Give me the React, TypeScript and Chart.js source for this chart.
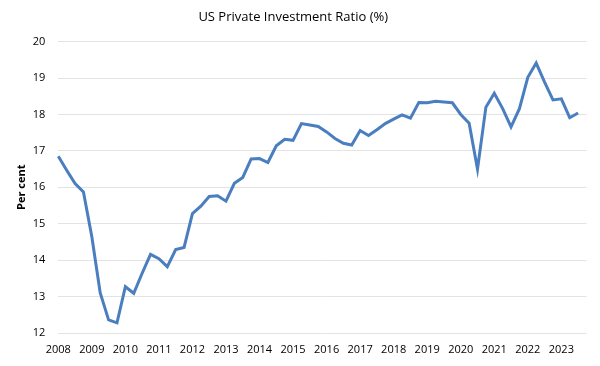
import React, { useEffect, useRef } from "react";
import { Chart, registerables } from "chart.js";

Chart.register(...registerables);

const years = ["2008","2009","2010","2011","2012","2013","2014","2015","2016","2017","2018","2019","2020","2021","2022","2023"];
const quarterNames = ["Q1", "Q2", "Q3", "Q4"];
const categories: string[] = years.flatMap((y) => quarterNames.map((q) => `${y} ${q}`));

const investmentRatio: (number | null)[] = [
  16.85, 16.47, 16.10, 15.87,
  14.64, 13.10, 12.36, 12.28,
  13.27, 13.09, 13.64, 14.16,
  14.04, 13.82, 14.29, 14.35,
  15.28, 15.48, 15.75, 15.77,
  15.62, 16.11, 16.27, 16.78,
  16.79, 16.68, 17.14, 17.32,
  17.29, 17.75, 17.71, 17.67,
  17.52, 17.34, 17.21, 17.16,
  17.56, 17.42, 17.58, 17.75,
  17.87, 17.99, 17.90, 18.33,
  18.32, 18.36, 18.34, 18.32,
  18.00, 17.76, 16.50, 18.20,
  18.58, 18.16, 17.66, 18.16,
  19.02, 19.41, 18.89, 18.40,
  18.43, 17.91, 18.04, null,
];

const FONT = "'Open Sans', 'Liberation Sans', sans-serif";

export default function App() {
  const ref = useRef<HTMLCanvasElement | null>(null);
  useEffect(() => {
    if (!ref.current) return;
    const chart = new Chart(ref.current, {
      type: "line",
      data: {
        labels: categories,
        datasets: [
          {
            label: "US Private Investment Ratio (%)",
            data: investmentRatio,
            borderColor: "#4a7ebf",
            borderWidth: 3,
            pointRadius: 0,
            tension: 0,
            fill: false,
          },
        ],
      },
      options: {
        animation: false,
        responsive: false,
        maintainAspectRatio: false,
        layout: { padding: { left: 0, right: 13.5, top: 0, bottom: 0 } },
        plugins: {
          legend: { display: false },
          tooltip: { enabled: false },
          title: {
            display: true,
            text: "US Private Investment Ratio (%)",
            color: "#000",
            font: { family: FONT, size: 13, weight: "normal" },
            padding: { top: 9, bottom: 17 },
          },
        },
        scales: {
          x: {
            type: "category",
            offset: false,
            grid: { display: false, drawTicks: false },
            border: { display: false },
            ticks: {
              autoSkip: false,
              maxRotation: 0,
              minRotation: 0,
              padding: 10,
              color: "#000",
              font: { family: FONT, size: 11 },
              callback: (_v: any, i: number) => (i % 4 === 0 ? years[i / 4] : ""),
            },
            afterFit: (s: any) => {
              s.height = 33;
            },
          },
          y: {
            min: 12,
            max: 20,
            grid: { color: "#e3e3e3", lineWidth: 1, drawTicks: false },
            border: { display: false },
            ticks: {
              stepSize: 1,
              padding: 13,
              color: "#000",
              font: { family: FONT, size: 11 },
            },
            title: {
              display: true,
              text: "Per cent",
              color: "#000",
              font: { family: FONT, size: 11, weight: "bold" },
              padding: { top: 15, bottom: 0 },
            },
            afterFit: (s: any) => {
              s.width = 58.3;
            },
          },
        },
      },
    });
    return () => chart.destroy();
  }, []);
  return (
    <div style={{ position: "fixed", left: 0, top: 0, width: 600, height: 366, background: "#fff" }}>
      <canvas ref={ref} width={600} height={366} style={{ width: 600, height: 366 }} />
    </div>
  );
}
